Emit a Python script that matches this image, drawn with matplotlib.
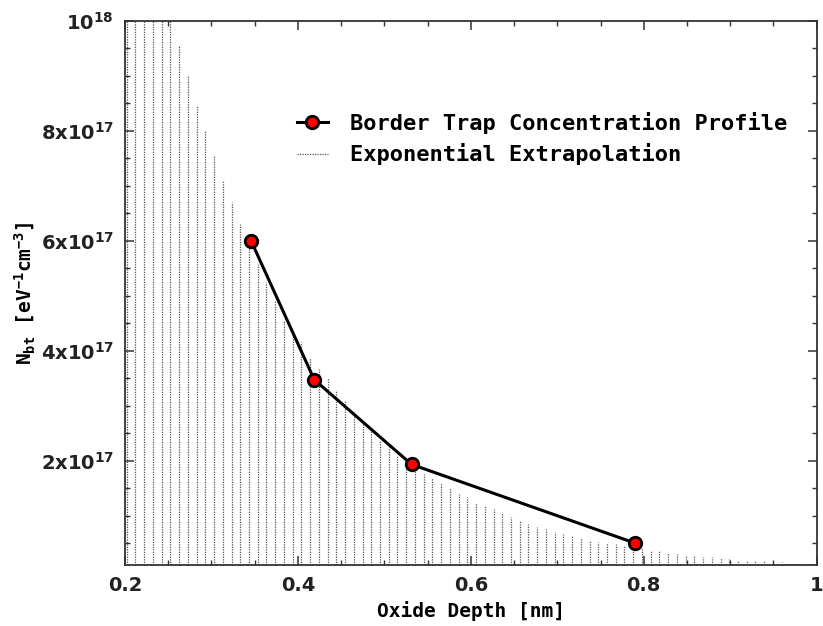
import numpy as np
import matplotlib
matplotlib.use('Agg')
import matplotlib.pyplot as plt
from matplotlib.ticker import MultipleLocator, FixedLocator

plt.rcParams['mathtext.fontset'] = 'custom'
plt.rcParams['mathtext.rm'] = 'DejaVu Sans Mono:bold'
plt.rcParams['mathtext.bf'] = 'DejaVu Sans Mono:bold'
plt.rcParams['mathtext.sf'] = 'DejaVu Sans:bold'

# measured border trap profile
depth = [0.3457, 0.4189, 0.5314, 0.7896]
nbt = [6.0e17, 3.47e17, 1.93e17, 0.50e17]

# exponential extrapolation, one impulse every ~0.0101 nm starting at 0.202 nm
# heights, in units of 1e17
extrap_x0 = 0.202
extrap_dx = 0.0101
extrap_h = [13.6, 12.8, 12.1, 11.4, 10.7, 10.1, 9.56, 9.02, 8.47, 7.99,
            7.56, 7.08, 6.70, 6.31, 5.95, 5.58, 5.24, 4.90, 4.55, 4.33,
            4.15, 3.87, 3.67, 3.51, 3.29, 3.08, 2.88, 2.70, 2.53, 2.38,
            2.25, 2.08, 1.98, 1.84, 1.76, 1.69, 1.60, 1.50, 1.40, 1.33,
            1.23, 1.17, 1.11, 1.05, 0.97, 0.91, 0.85, 0.80, 0.76, 0.70,
            0.66, 0.62, 0.59, 0.55, 0.52, 0.50, 0.48, 0.46, 0.43, 0.41,
            0.38, 0.35, 0.32, 0.30, 0.29, 0.27, 0.25, 0.24, 0.23, 0.21,
            0.20, 0.19, 0.18, 0.17, 0.16, 0.15, 0.14, 0.14, 0.13]

xticks = [0.2, 0.4, 0.6, 0.8, 1.0]
xtick_labels = ['0.2', '0.4', '0.6', '0.8', '1']
yticks = [2e17, 4e17, 6e17, 8e17, 1e18]
ytick_labels = [r'$\mathsf{2x10^{17}}$', r'$\mathsf{4x10^{17}}$',
                r'$\mathsf{6x10^{17}}$', r'$\mathsf{8x10^{17}}$',
                r'$\mathsf{10^{18}}$']


def main():
    fig = plt.figure(figsize=(8.23, 6.26), dpi=100)
    ax = fig.add_axes([125 / 823, 1 - 565 / 626, (816.7 - 125) / 823, (565 - 20.7) / 626])

    ex = extrap_x0 + extrap_dx * np.arange(len(extrap_h))
    ey = np.array(extrap_h) * 1e17
    ax.vlines(ex, 0, ey, colors='#555555', linewidth=0.9,
              linestyles=(0, (1, 1)), label='Exponential Extrapolation', zorder=1)

    ax.plot(depth, nbt, '-o', color='black', lw=2.2, ms=9, mfc='red', mec='black',
            mew=2, label='Border Trap Concentration Profile', zorder=3)

    ax.set_xlim(0.2, 1.0)
    ax.set_ylim(1e16, 1e18)

    ax.xaxis.set_major_locator(FixedLocator(xticks))
    ax.xaxis.set_minor_locator(MultipleLocator(0.05))
    ax.yaxis.set_major_locator(FixedLocator(yticks))
    ax.yaxis.set_minor_locator(MultipleLocator(5e16))
    ax.set_xticklabels(xtick_labels)
    ax.set_yticklabels(ytick_labels)

    ax.tick_params(which='both', direction='in', top=True, right=True, color='#333333')
    ax.tick_params(which='major', length=6.5, width=1.1)
    ax.tick_params(which='minor', length=3.8, width=1.0)
    ax.tick_params(axis='x', pad=8, labelsize=14, labelcolor='#222222')
    ax.tick_params(axis='y', pad=8, labelsize=14, labelcolor='#222222')
    for lab in ax.get_xticklabels():
        lab.set_fontweight('bold')

    for s in ax.spines.values():
        s.set_color('#333333')
        s.set_linewidth(1.3)

    mono = dict(family='DejaVu Sans Mono', fontweight='bold', fontsize=14)
    ax.set_xlabel('Oxide Depth [nm]', labelpad=4, **mono)
    ax.set_ylabel(r'N$_{\mathrm{bt}}$ [eV$^{\mathrm{-1}}$cm$^{\mathrm{-3}}$]', **mono)
    ax.yaxis.set_label_coords((37 - 125) / 691.7, 0.5)

    h, l = ax.get_legend_handles_labels()
    ax.legend(h[::-1], l[::-1], loc='center left', bbox_to_anchor=(297 / 823, 1 - 138.5 / 626),
              bbox_transform=fig.transFigure, frameon=False, borderpad=0, borderaxespad=0,
              handlelength=1.4, handletextpad=1.0, labelspacing=0.45,
              prop=dict(family='DejaVu Sans Mono', weight='bold', size=15.8))

    fig.savefig('out.png', dpi=100)


if __name__ == '__main__':
    main()
